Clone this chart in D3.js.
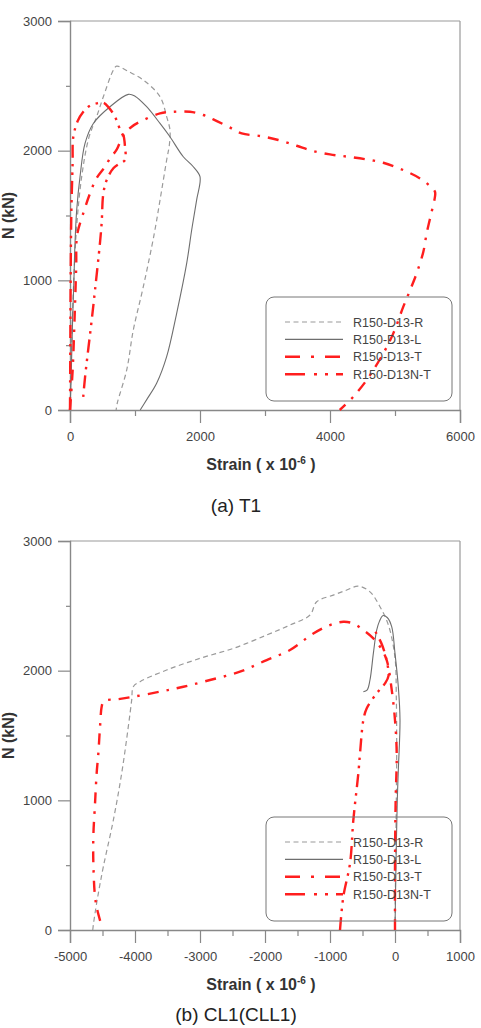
<!DOCTYPE html>
<html><head><meta charset="utf-8">
<script src="https://cdn.jsdelivr.net/npm/d3@7/dist/d3.min.js"></script>
<style>
html,body{margin:0;padding:0;background:#fff;}
svg{display:block;font-family:"Liberation Sans",Arial,sans-serif;}
</style></head>
<body>
<svg id="c" width="481" height="1028"></svg>
<script>
// ---------- data ----------
const seriesNames = ["R150-D13-R","R150-D13-L","R150-D13-T","R150-D13N-T"];
const yTicks = [0,1000,2000,3000];
const yMinor = [500,1500,2500];
const xTicksA = [0,2000,4000,6000];
const xMinorA = [1000,3000,5000];
const xTicksB = [-5000,-4000,-3000,-2000,-1000,0,1000];
const xMinorB = [-4500,-3500,-2500,-1500,-500,500];
const captionA = "(a)  T1";
const captionB = "(b)  CL1(CLL1)";

// Panel (a) T1 : [strain, N]
const t1R = [[0,0],[20,400],[50,900],[100,1400],[180,1800],[290,2100],[410,2262],[513,2416],[667,2621],[718,2652],[900,2610],[1128,2545],[1385,2416],[1487,2262],[1538,2159],[1530,2050],[1487,1928],[1385,1619],[1297,1362],[1128,951],[974,617],[872,308],[728,54],[710,0]];
const t1L = [[0,0],[20,300],[40,700],[60,1000],[77,1288],[103,1542],[154,1799],[231,2056],[359,2210],[615,2339],[897,2434],[1000,2420],[1179,2339],[1385,2210],[1538,2107],[1743,1953],[1897,1876],[2000,1799],[1948,1619],[1872,1388],[1795,1131],[1641,746],[1487,411],[1333,206],[1180,80],[1080,0]];
const t1T = [[0,0],[40,300],[70,700],[95,1100],[110,1350],[205,1519],[308,1670],[410,1789],[538,1876],[615,1940],[720,2010],[820,2120],[950,2185],[1077,2223],[1385,2288],[1600,2300],[1846,2300],[2051,2275],[2205,2241],[2436,2185],[2641,2133],[2923,2113],[3205,2082],[3487,2038],[3718,2000],[4000,1971],[4282,1953],[4564,1932],[4820,1907],[5128,1850],[5385,1786],[5538,1727],[5615,1683],[5615,1645],[5564,1529],[5487,1362],[5436,1221],[5333,1054],[5231,923],[5128,797],[4974,591],[4820,437],[4564,231],[4359,103],[4205,26],[4150,0]];
const t1NT = [[0,0],[5,500],[10,1000],[20,1500],[40,1900],[51,2107],[120,2230],[205,2300],[300,2345],[410,2365],[513,2370],[600,2330],[692,2262],[795,2133],[820,2120],[846,2030],[846,1928],[760,1900],[667,1865],[564,1773],[513,1670],[487,1442],[461,1288],[385,925],[333,690],[231,250],[200,80]];

// Panel (b) CL1(CLL1) : [strain, N]
const t2R = [[0,0],[10,500],[20,1000],[26,1400],[20,1800],[0,2100],[-100,2350],[-231,2493],[-385,2608],[-564,2652],[-750,2620],[-949,2583],[-1205,2531],[-1308,2429],[-1615,2352],[-1974,2275],[-2487,2172],[-3000,2095],[-3513,2005],[-3923,1915],[-4026,1876],[-4051,1773],[-4103,1568],[-4205,1208],[-4333,848],[-4487,488],[-4564,283],[-4615,129],[-4641,39],[-4650,0]];
const t2L = [[0,0],[15,500],[35,1000],[51,1233],[77,1619],[51,1876],[0,2133],[-51,2339],[-120,2410],[-190,2424],[-240,2380],[-282,2313],[-333,2133],[-385,1928],[-430,1850],[-487,1838]];
const t2T = [[0,0],[0,500],[10,1000],[26,1365],[0,1619],[-50,1850],[-128,2082],[-231,2185],[-333,2249],[-487,2313],[-641,2364],[-795,2377],[-1000,2352],[-1256,2287],[-1615,2159],[-1974,2082],[-2385,1992],[-2846,1928],[-3256,1876],[-3615,1838],[-4026,1799],[-4282,1779],[-4436,1773],[-4487,1760],[-4513,1722],[-4538,1568],[-4564,1362],[-4590,1208],[-4615,976],[-4641,719],[-4640,500],[-4615,257],[-4580,154],[-4513,31]];
const t2NT = [[-846,0],[-795,257],[-692,514],[-641,848],[-564,1208],[-538,1362],[-487,1619],[-436,1709],[-282,1825],[-154,1902],[-100,1960],[-130,2080],[-200,2200],[-300,2300]];

// ---------- styles ----------
const styles = [
  {stroke:"#9a9a9a", width:1.2, dash:"5,3.5"},
  {stroke:"#6e6e6e", width:1.1, dash:null},
  {stroke:"#ff1e1e", width:2.4, dash:"11,8,2.5,8"},
  {stroke:"#ff1e1e", width:2.4, dash:"13,6,2.5,6,2.5,6"}
];

const svg = d3.select("#c");
const fmt = d => String(d);

function panel(cfg){
  const g = svg.append("g");
  const x = d3.scaleLinear().domain(cfg.xDomain).range([70,460]);
  const y = d3.scaleLinear().domain([0,3000]).range([cfg.bottom,cfg.top]);

  // frame top & right
  g.append("line").attr("x1",70).attr("x2",460).attr("y1",cfg.top).attr("y2",cfg.top)
    .attr("stroke","#999").attr("stroke-width",1.2);
  g.append("line").attr("x1",460).attr("x2",460).attr("y1",cfg.top).attr("y2",cfg.bottom)
    .attr("stroke","#999").attr("stroke-width",1.2);

  // y axis
  const ya = d3.axisLeft(y).tickValues(yTicks).tickSize(12).tickPadding(6).tickFormat(fmt);
  const yg = g.append("g").attr("transform","translate(70,0)").call(ya);
  const yam = d3.axisLeft(y).tickValues(yMinor).tickSize(4).tickFormat("");
  const ygm = g.append("g").attr("transform","translate(70,0)").call(yam);
  // x axis
  const xa = d3.axisBottom(x).tickValues(cfg.xTicks).tickSize(13).tickPadding(9).tickFormat(fmt);
  const xg = g.append("g").attr("transform",`translate(0,${cfg.bottom})`).call(xa);
  const xam = d3.axisBottom(x).tickValues(cfg.xMinor).tickSize(6).tickFormat("");
  const xgm = g.append("g").attr("transform",`translate(0,${cfg.bottom})`).call(xam);
  [yg,ygm,xg,xgm].forEach(a=>{
    a.select(".domain").attr("stroke","#888").attr("stroke-width",1.4);
    a.selectAll(".tick line").attr("stroke","#888").attr("stroke-width",1.2);
    a.selectAll(".tick text").attr("fill","#444").style("font-size","13px")
      .style("font-family","'Liberation Sans',Arial,sans-serif");
  });
  ygm.select(".domain").remove(); xgm.select(".domain").remove();

  // series
  const line = d3.line().x(d=>x(d[0])).y(d=>y(d[1])).curve(d3.curveCatmullRom.alpha(0.5));
  cfg.series.forEach((s,i)=>{
    const st = styles[i];
    g.append("path").datum(s).attr("d",line).attr("fill","none")
      .attr("stroke",st.stroke).attr("stroke-width",st.width)
      .attr("stroke-dasharray",st.dash).attr("stroke-linejoin","round");
  });

  // legend
  const lx = 266, ly = cfg.bottom - 113;
  g.append("rect").attr("x",lx).attr("y",ly).attr("width",186).attr("height",104)
    .attr("rx",8).attr("fill","none").attr("stroke","#777").attr("stroke-width",1);
  seriesNames.forEach((n,i)=>{
    const yy = ly + 25 + i*17.4;
    const st = styles[i];
    g.append("line").attr("x1",lx+19).attr("x2",lx+77).attr("y1",yy).attr("y2",yy)
      .attr("stroke",st.stroke).attr("stroke-width",st.width)
      .attr("stroke-dasharray",i>=2 ? (i===2?"15,11,3,11":"20,9,3,8,3,8") : st.dash);
    g.append("text").attr("x",lx+87).attr("y",yy+4.5).text(n)
      .attr("fill","#444").style("font-size","12.5px");
  });

  // axis titles
  const xt = g.append("text").attr("x",261).attr("y",cfg.bottom+60).attr("text-anchor","middle")
    .style("font-weight","bold").style("font-size","16px").attr("fill","#333");
  xt.append("tspan").text("Strain ( x 10");
  xt.append("tspan").text("-6").attr("dy",-6).style("font-size","10px");
  xt.append("tspan").text(" )").attr("dy",6);
  g.append("text").attr("transform",`translate(14,${(cfg.top+cfg.bottom)/2}) rotate(-90)`)
    .attr("text-anchor","middle").style("font-weight","bold").style("font-size","16px")
    .attr("fill","#333").text("N (kN)");
  // caption
  g.append("text").attr("x",236).attr("y",cfg.capY).attr("text-anchor","middle")
    .style("font-size","19px").attr("fill","#222").text(cfg.caption);
}

panel({xDomain:[0,6000], xTicks:xTicksA, xMinor:xMinorA, top:21, bottom:410, capY:512,
       caption:captionA, series:[t1R,t1L,t1T,t1NT]});
panel({xDomain:[-5000,1000], xTicks:xTicksB, xMinor:xMinorB, top:541, bottom:930, capY:1021,
       caption:captionB, series:[t2R,t2L,t2T,t2NT]});
</script>
</body></html>
